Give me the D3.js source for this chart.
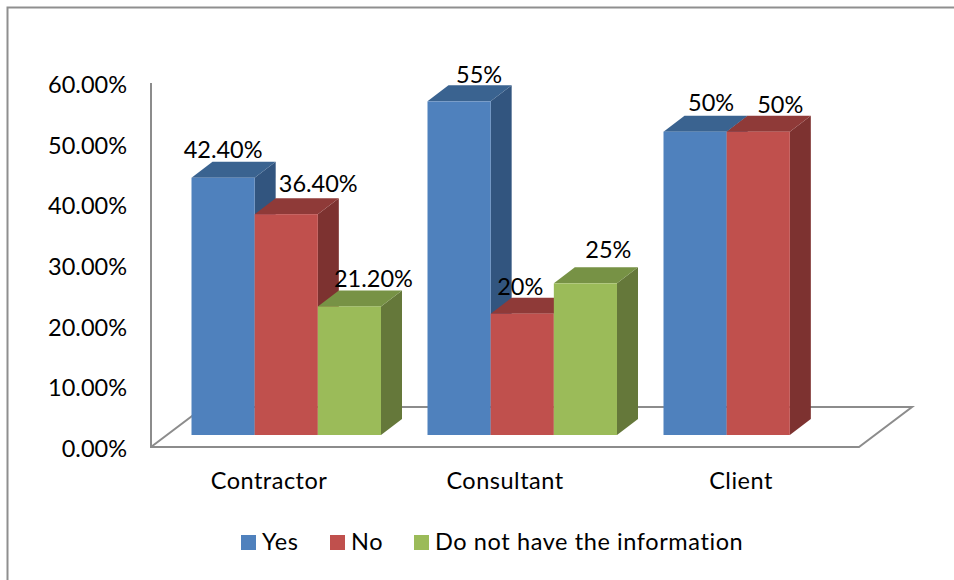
<!DOCTYPE html>
<html><head><meta charset="utf-8">
<script src="https://cdn.jsdelivr.net/npm/d3@7/dist/d3.min.js"></script>
<style>html,body{margin:0;padding:0;background:#fff}svg{display:block}text{font-family:Lato,"Open Sans",sans-serif;fill:#000}</style>
</head><body><svg id="c" width="954" height="580"></svg>
<script>
const categories = ["Contractor","Consultant","Client"];
const seriesNames = ["Yes","No","Do not have the information"];
const yesValues = [42.4,55,50];
const noValues = [36.4,20,50];
const unknownValues = [21.2,25,null];
const valueLabels = [["42.40%","55%","50%"],["36.40%","20%","50%"],["21.20%","25%",""]];
const yTicks = [0,10,20,30,40,50,60];

const colors = [
 {front:"#4F81BD",top:"#3A6390",side:"#32557F"},
 {front:"#C0504D",top:"#8F3A38",side:"#7D3230"},
 {front:"#9BBB59",top:"#779245",side:"#65783A"}];
const labelShift = [[[0,-28],[20,-27],[16,-29]],[[32,-30],[-2,-27],[22,-27]],[[24,-28],[23,-34],[0,0]]];

const svg = d3.select("#c");
const FS = 23.5, grey = "#8c8c8c";
const y = d3.scaleLinear().domain([0,60]).range([447,83]);
const x0 = d3.scaleBand().domain(categories).range([151,859]);
const x1 = d3.scaleBand().domain(d3.range(3)).range([40.5,230]);
const dx = 21, dy = -16, liftY = 12;

// outer frame
svg.append("path").attr("d","M7.5,580V7.5H954").attr("fill","none").attr("stroke","#8f8f8f").attr("stroke-width",2);

// walls and floor
const floor = svg.append("g").attr("fill","none").attr("stroke",grey).attr("stroke-width",2);
floor.append("path").attr("d",`M151,83V447H859L912,407H204L151,447`);

// bars: left to right so each later bar overlaps the side of the previous one
const series = [yesValues,noValues,unknownValues];
const bars = [];
series.forEach((vals,s)=>vals.forEach((v,c)=>{ if(v!=null) bars.push({s,c,v}); }));
bars.sort((a,b)=>a.c-b.c||a.s-b.s);
const g = svg.append("g");
bars.forEach(b=>{
  const l = x0(categories[b.c])+x1(b.s), w = x1.bandwidth(), r = l+w;
  const t = y(b.v)-liftY, base = y(0)-liftY, col = colors[b.s];
  const h = g.append("g");
  h.append("path").attr("fill",col.side).attr("d",`M${r},${t}L${r+dx},${t+dy}V${base+dy}L${r},${base}Z`);
  h.append("path").attr("fill",col.top).attr("d",`M${l},${t}L${l+dx},${t+dy}H${r+dx}L${r},${t}Z`);
  h.append("rect").attr("x",l).attr("y",t).attr("width",w).attr("height",base-t).attr("fill",col.front);
});

// data labels
bars.forEach(b=>{
  const sh = labelShift[b.s][b.c];
  svg.append("text").attr("x",x0(categories[b.c])+x1(b.s)+x1.bandwidth()/2+sh[0])
    .attr("y",y(b.v)-liftY+sh[1]).attr("dy","0.35em").attr("text-anchor","middle")
    .style("font-size",FS+"px").text(valueLabels[b.s][b.c]);
});

// axes
const ya = svg.append("g").attr("transform","translate(127,2)")
  .call(d3.axisLeft(y).tickValues(yTicks).tickSize(0).tickPadding(0).tickFormat(d=>d3.format(".2f")(d)+"%"));
ya.select(".domain").remove();
ya.selectAll("text").style("font-size",FS+"px").style("font-family","Lato").attr("fill","#000");
const xa = svg.append("g").attr("transform","translate(0,472)")
  .call(d3.axisBottom(x0).tickSize(0).tickPadding(0));
xa.select(".domain").remove();
xa.selectAll("text").style("font-size",FS+"px").style("font-family","Lato").style("letter-spacing","0.5px").attr("fill","#000");

// legend
const legX = [241,330,414];
const leg = svg.append("g");
seriesNames.forEach((n,i)=>{
  leg.append("rect").attr("x",legX[i]).attr("y",535).attr("width",15).attr("height",15).attr("fill",colors[i].front);
  leg.append("text").attr("x",legX[i]+21).attr("y",542).attr("dy","0.35em").style("font-size",FS+"px").style("letter-spacing","0.6px").text(n);
});
</script></body></html>
